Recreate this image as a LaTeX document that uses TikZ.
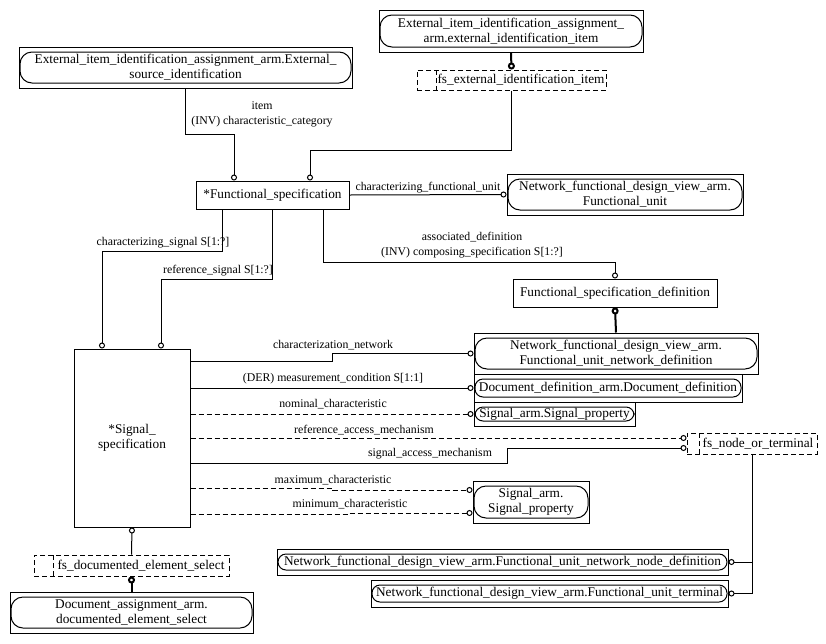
\documentclass[tikz,border=0pt]{standalone}
\usepackage{fontspec}
\setmainfont{Liberation Serif}
\usetikzlibrary{arrows.meta}
\begin{document}
\begin{tikzpicture}[x=1pt, y=-1pt, line width=1pt,
ent/.style={draw, rectangle, inner sep=0pt, align=center, font=\fontsize{13.3}{15}\selectfont},
refent/.style={ent, path picture={\draw[rounded corners=#1]
    ([shift={(1pt,-5pt)}]path picture bounding box.north west) rectangle
    ([shift={(-1pt,5pt)}]path picture bounding box.south east);}},
refent/.default=8pt,
sel/.style={ent, dash pattern=on 5pt off 3pt, path picture={\draw[dash pattern=on 5pt off 3pt]
    ([xshift=#1]path picture bounding box.north west) --
    ([xshift=#1]path picture bounding box.south west);}},
lbl/.style={inner sep=1pt, align=center, font=\fontsize{11.8}{15}\selectfont},
con/.style={-{Circle[open, length=6pt, width=6pt]}},
nocon/.style={{Circle[open, length=6pt, width=6pt]}-},
dcon/.style={con, dash pattern=on 5pt off 3pt},
fat/.style={line width=2pt, -{Circle[open, length=7pt, width=7pt]}},
fatr/.style={line width=2pt, {Circle[open, length=7pt, width=7pt]}-}]
\useasboundingbox (0,0) rectangle (826,643);

\node[refent=12pt, minimum width=333pt, minimum height=41pt] (esi) at (185.5,67.5)
    {External\_item\_identification\_assignment\_arm.External\_\\source\_identification};
\node[refent=12pt, minimum width=264pt, minimum height=42pt] (eii) at (511,31)
    {External\_item\_identification\_assignment\_\\arm.external\_identification\_item};
\node[sel=19pt, minimum width=189pt, minimum height=20pt] (fsei) at (511.5,80)
    {\hspace*{19pt}fs\_external\_identification\_item};
\node[ent, minimum width=153pt, minimum height=28pt] (fs) at (272.5,195) {*Functional\_specification};
\node[refent=12pt, minimum width=236pt, minimum height=41pt] (fu) at (625,194.5)
    {Network\_functional\_design\_view\_arm.\\Functional\_unit};
\node[ent, minimum width=204pt, minimum height=28pt] (fsd) at (615,293) {Functional\_specification\_definition};
\node[refent=12pt, minimum width=284pt, minimum height=41pt] (fund) at (616,353.5)
    {Network\_functional\_design\_view\_arm.\\Functional\_unit\_network\_definition};
\node[refent, minimum width=268pt, minimum height=28pt] (dd) at (608,388)
    {Document\_definition\_arm.Document\_definition};
\node[refent, minimum width=161pt, minimum height=24pt] (sp1) at (554.5,414) {Signal\_arm.Signal\_property};
\node[sel=12pt, minimum width=130pt, minimum height=21pt] (fnt) at (752,443.5)
    {\hspace*{12pt}fs\_node\_or\_terminal};
\node[refent=12pt, minimum width=116pt, minimum height=42pt] (sp2) at (531,502)
    {Signal\_arm.\\Signal\_property};
\node[refent, minimum width=451pt, minimum height=26pt] (nnd) at (502.5,562)
    {Network\_functional\_design\_view\_arm.Functional\_unit\_network\_node\_definition};
\node[refent, minimum width=357pt, minimum height=27pt] (term) at (549.5,593.5)
    {Network\_functional\_design\_view\_arm.Functional\_unit\_terminal};
\node[ent, minimum width=116pt, minimum height=178pt] (ss) at (132,438) {*Signal\_\\specification};
\node[sel=19pt, minimum width=195pt, minimum height=21pt] (fsdoc) at (131.5,565.5)
    {\hspace*{19pt}fs\_documented\_element\_select};
\node[refent=12pt, minimum width=243pt, minimum height=41pt] (das) at (131.5,612.5)
    {Document\_assignment\_arm.\\documented\_element\_select};

\draw[con] (esi.south) -- ++(0,46) -| ([xshift=-38.5pt]fs.north);
\draw[con] (fsei.south) -- ++(0,60) -| ([xshift=37.5pt]fs.north);
\draw[fat] (eii.south) -- (fsei.north);
\draw[con] (fs.east) -- (fu.west) node[lbl, above, midway] (lcfu) {characterizing\_functional\_unit};
\draw[con] ([xshift=50.5pt]fs.south) -- ++(0,53) -| (fsd.north);
\draw[fatr] (fsd.south) -- (fund.north);
\draw[con] ([xshift=-50.5pt]fs.south) -- ++(0,42) -| ([xshift=-30pt]ss.north);
\draw[con] (fs.south) -- ++(0,70) -| ([xshift=29pt]ss.north);
\draw[con] ([yshift=77pt]ss.east) -- ++(142,0) |- (fund.west);
\draw[con] (dd.west -| ss.east) -- (dd.west);
\draw[dcon] (sp1.west -| ss.east) -- (sp1.west);
\draw[dcon] (ss.east) -- ([yshift=5.5pt]fnt.west);
\draw[con] ([yshift=-25pt]ss.east) -- ++(317,0) |- ([yshift=-4.5pt]fnt.west);
\draw[dcon] ([yshift=-50pt]ss.east) -- ++(142,0) |- ([yshift=12pt]sp2.west);
\draw[dcon] ([yshift=-76pt]ss.east) -- ++(158,0) |- ([yshift=-11pt]sp2.west);
\draw[nocon] (ss.south) -- (fsdoc.north);
\draw[fatr] (fsdoc.south) -- (das.north);
\draw[con] (fnt.south) |- (nnd.east);
\draw[con] (fnt.south) |- (term.east);

\node[lbl] (litem) at (262,114.5) {item\\(INV) characteristic\_category};
\node[lbl] (lad) at (472,245.5) {associated\_definition\\(INV) composing\_specification S[1:?]};
\node[lbl] (lcs) at (163,243) {characterizing\_signal S[1:?]};
\node[lbl] (lrs) at (218,271) {reference\_signal S[1:?]};
\node[lbl] (lcn) at (333,345) {characterization\_network};
\node[lbl] (lmc) at (333,379) {(DER) measurement\_condition S[1:1]};
\node[lbl] (lnc) at (333,404) {nominal\_characteristic};
\node[lbl] (lram) at (364,430) {reference\_access\_mechanism};
\node[lbl] (lsam) at (430,454) {signal\_access\_mechanism};
\node[lbl] (lmax) at (333,480) {maximum\_characteristic};
\node[lbl] (lmin) at (350,504) {minimum\_characteristic};
\end{tikzpicture}
\end{document}
